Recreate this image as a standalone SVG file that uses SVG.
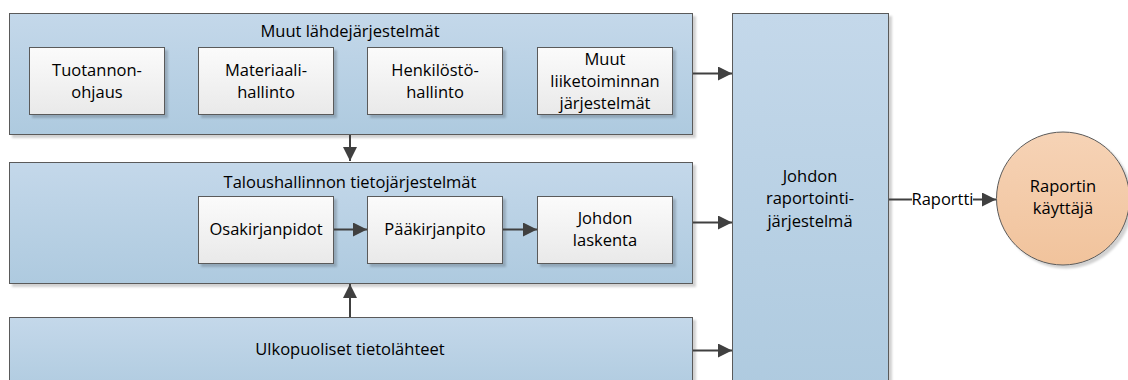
<svg xmlns="http://www.w3.org/2000/svg" width="1128" height="380" viewBox="0 0 1128 380">
<defs>
<linearGradient id="gBlue" x1="0" y1="0" x2="0" y2="1"><stop offset="0" stop-color="#C4D8EA"/><stop offset="1" stop-color="#AECADF"/></linearGradient>
<linearGradient id="gWhite" x1="0" y1="0" x2="0" y2="1"><stop offset="0" stop-color="#FBFBFB"/><stop offset="1" stop-color="#E9E9E9"/></linearGradient>
<linearGradient id="gPeach" x1="0" y1="0" x2="0" y2="1"><stop offset="0" stop-color="#F6D3B6"/><stop offset="1" stop-color="#F1C39C"/></linearGradient>
<filter id="sh" x="-5%" y="-5%" width="115%" height="120%"><feDropShadow dx="3" dy="3" stdDeviation="0.8" flood-color="#000" flood-opacity="0.18"/></filter>
<marker id="ah" viewBox="0 0 10 10" refX="10" refY="5" markerWidth="7" markerHeight="7" markerUnits="strokeWidth" orient="auto"><path d="M0,0 L10,5 L0,10 z" fill="#404040"/></marker>
<style>
.cont{fill:url(#gBlue);stroke:#5A5A5A;stroke-width:1;filter:url(#sh)}
.box{fill:url(#gWhite);stroke:#5A5A5A;stroke-width:1;filter:url(#sh)}
.t{font-family:"Open Sans","Liberation Sans",Arial,sans-serif;font-size:16.5px;fill:#000;text-anchor:middle}
.c{stroke:#404040;stroke-width:2;fill:none;marker-end:url(#ah)}
</style>
</defs>
<g id="muut-lahde">
<rect class="cont" x="9.5" y="13.5" width="683" height="121"/>
<text class="t" x="350" y="37">Muut lähdejärjestelmät</text>
</g>
<g id="tuotannon"><rect class="box" x="29.5" y="47.5" width="135" height="67"/><text class="t" x="97" y="76">Tuotannon-</text><text class="t" x="97" y="98">ohjaus</text></g>
<g id="materiaali"><rect class="box" x="198.5" y="47.5" width="135" height="67"/><text class="t" x="266" y="76">Materiaali-</text><text class="t" x="266" y="98">hallinto</text></g>
<g id="henkilosto"><rect class="box" x="367.5" y="47.5" width="135" height="67"/><text class="t" x="435" y="76">Henkilöstö-</text><text class="t" x="435" y="98">hallinto</text></g>
<g id="muut-liike"><rect class="box" x="537.5" y="47.5" width="135" height="67"/><text class="t" x="605" y="65">Muut</text><text class="t" x="605" y="87">liiketoiminnan</text><text class="t" x="605" y="109">järjestelmät</text></g>
<g id="talous">
<rect class="cont" x="9.5" y="162.5" width="683" height="121"/>
<text class="t" x="350" y="188">Taloushallinnon tietojärjestelmät</text>
</g>
<g id="osakirjanpidot"><rect class="box" x="198.5" y="196.5" width="135" height="67"/><text class="t" x="266" y="235">Osakirjanpidot</text></g>
<g id="paakirjanpito"><rect class="box" x="367.5" y="196.5" width="135" height="67"/><text class="t" x="435" y="235">Pääkirjanpito</text></g>
<g id="johdon-laskenta"><rect class="box" x="537.5" y="196.5" width="135" height="67"/><text class="t" x="605" y="224">Johdon</text><text class="t" x="605" y="246">laskenta</text></g>
<g id="ulkopuoliset">
<rect class="cont" x="9.5" y="317.5" width="683" height="80"/>
<text class="t" x="350" y="355">Ulkopuoliset tietolähteet</text>
</g>
<g id="raportointi">
<rect class="cont" x="732.5" y="13.5" width="156" height="384"/>
<text class="t" x="810" y="182">Johdon</text><text class="t" x="810" y="204">raportointi-</text><text class="t" x="810" y="227">järjestelmä</text>
</g>
<g id="kayttaja">
<circle cx="1063" cy="198.5" r="66.5" fill="url(#gPeach)" stroke="#5A5A5A" stroke-width="1" filter="url(#sh)"/>
<text class="t" x="1063" y="192">Raportin</text><text class="t" x="1063" y="214">käyttäjä</text>
</g>
<g id="connectors">
<line class="c" x1="350" y1="135" x2="350" y2="161"/>
<line class="c" x1="350" y1="317" x2="350" y2="284"/>
<line class="c" x1="334" y1="229.5" x2="367" y2="229.5"/>
<line class="c" x1="503" y1="229.5" x2="537" y2="229.5"/>
<line class="c" x1="693" y1="73.5" x2="732" y2="73.5"/>
<line class="c" x1="693" y1="222.5" x2="732" y2="222.5"/>
<line class="c" x1="693" y1="350.5" x2="732" y2="350.5"/>
<line class="c" x1="889" y1="199.5" x2="996" y2="199.5"/>
<rect x="912" y="189" width="61" height="20" fill="#FFFFFF"/>
<text class="t" x="942.5" y="205">Raportti</text>
</g>
</svg>
